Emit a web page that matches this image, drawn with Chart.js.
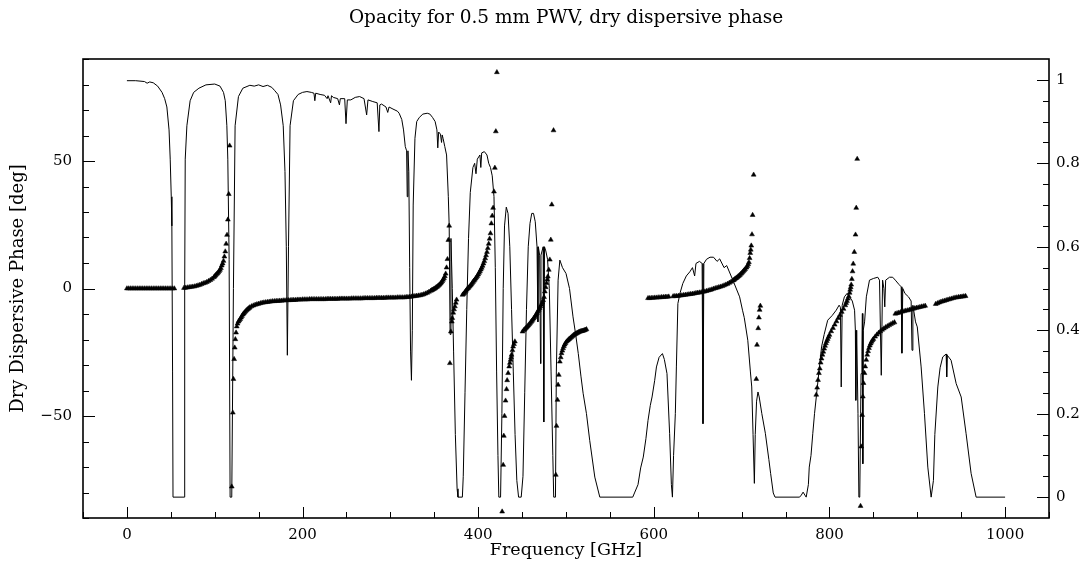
<!DOCTYPE html>
<html>
<head>
<meta charset="utf-8">
<title>Opacity for 0.5 mm PWV, dry dispersive phase</title>
<script src="https://cdn.jsdelivr.net/npm/chart.js@4.4.0/dist/chart.umd.min.js"></script>
<style>
  html, body { margin: 0; padding: 0; background: #fff; }
  #wrap { width: 1091px; height: 569px; }
</style>
</head>
<body>
<div id="wrap"><canvas id="chart" width="1091" height="569"></canvas></div>
<script>
// transmission (right axis)
var transFreq = [0,10,20,23,26,30,35,40,43,45.5,48,49.3,50.5,51.2,52,52.5,65.2,65.8,66.4,68.3,72,76,82,90,100,106,110,112,113.8,114.9,116.4,117.5,119.4,121.3,123.2,127,132,140,145,150,155,160,165,168,172,175,178,180,181.5,182.7,184,185.8,189.6,195,
  200,205,210,213,214,215,220,225,228,229,232,233,235,240,242,243,248,249.5,251,255,260,265,270,273,274.5,280,285,287,288,290,295,297,298.5,303,308,310,313,315,317,318.5,319.2,320,321,322,323,324,325,326,328,330,333,337,342,345,348,351,353,354,355,357,358.3,359,360,362,364,366,367,368,369,370.5,372,374,376,377,
  382,383,385,387,389,391,394,396,397.5,399,402,403,404,407,410,412,414,416,418,419.5,421,422.5,423.5,425.5,427,428.5,430,432,434,436,438,440,442,444,446,449,451,453,455,457,459,461,463,465,467,468,468.5,470,471,471.5,474,474.7,475.5,477,479,481,483,485,486,488,489,491,493,496,500,504,508,511,514,517,519.5,523.3,527,532.8,538.5,
  576,578,582,585,588,591,593.4,596,598,601,603,606,609.8,612,615,618,620,621.2,622.5,624.5,625.7,627.4,630,633,637,641,644,646.5,648,652,655,656,657,660,664,668,672,675,680,683,690,697.7,701,703,707,710,711.5,713,714.5,715.5,717,718.6,720,723,727,731,733,736,738,
  766,768,770,772,773.5,776,777,779,781,783,785,788,791,794,798,803,807.7,811,812.5,813.4,814.5,817,820,823,826,828.6,829.5,830,831,832.5,833.5,834.5,835.5,836,837,837.5,838,838.5,840,842,845.6,850,855,857,859,860.5,862,863,864,868.4,872,875,879,881.7,882.5,883.5,886,890,893,894,895,898,900,904.4,908.2,912,915.8,918.4,920,923.4,926,929,932.9,933.5,934.2,938.5,944.3,950,955.6,961.3,967,1000];
var transVal = [0.998,0.998,0.996,0.992,0.995,0.993,0.985,0.97,0.955,0.935,0.88,0.81,0.72,0.65,0.3,0,0,0.5,0.81,0.89,0.95,0.97,0.98,0.988,0.99,0.985,0.97,0.95,0.89,0.81,0.57,0,0,0.5,0.89,0.96,0.98,0.987,0.985,0.988,0.984,0.987,0.982,0.975,0.965,0.94,0.89,0.78,0.6,0.34,0.6,0.89,0.95,0.965,
  0.97,0.972,0.97,0.968,0.95,0.968,0.965,0.963,0.955,0.962,0.945,0.962,0.958,0.955,0.94,0.955,0.955,0.895,0.952,0.952,0.958,0.96,0.955,0.916,0.952,0.948,0.945,0.876,0.94,0.942,0.935,0.922,0.935,0.93,0.925,0.92,0.905,0.88,0.84,0.83,0.72,0.83,0.78,0.55,0.35,0.28,0.4,0.7,0.86,0.9,0.91,0.918,0.92,0.918,0.91,0.9,0.88,0.837,0.875,0.87,0.85,0.868,0.86,0.84,0.82,0.72,0.65,0.39,0.62,0.5,0.35,0.15,0.02,0,
  0,0.05,0.25,0.45,0.62,0.73,0.79,0.8,0.775,0.81,0.82,0.79,0.825,0.828,0.82,0.8,0.79,0.77,0.72,0.55,0.3,0.1,0,0,0.2,0.5,0.65,0.695,0.68,0.6,0.45,0.3,0.15,0.04,0,0,0.05,0.25,0.45,0.6,0.656,0.68,0.68,0.66,0.6,0.42,0.6,0.58,0.32,0.58,0.6,0.18,0.6,0.59,0.57,0.5,0.3,0.1,0,0,0.3,0.52,0.568,0.55,0.536,0.5,0.432,0.39,0.344,0.29,0.249,0.2,0.136,0.048,0,
  0,0.01,0.03,0.07,0.096,0.14,0.184,0.22,0.24,0.28,0.312,0.335,0.344,0.33,0.296,0.152,0.03,0,0.1,0.2,0.312,0.464,0.49,0.512,0.53,0.54,0.55,0.53,0.56,0.565,0.56,0.176,0.56,0.57,0.575,0.575,0.565,0.571,0.55,0.555,0.52,0.48,0.448,0.43,0.376,0.3,0.264,0.15,0.033,0.15,0.23,0.252,0.24,0.2,0.153,0.09,0.057,0.01,0,
  0,0.005,0.012,0.005,0,0.03,0.072,0.1,0.152,0.2,0.24,0.3,0.36,0.39,0.424,0.435,0.448,0.46,0.455,0.264,0.46,0.48,0.488,0.48,0.47,0.448,0.4,0.232,0.4,0.2,0,0,0.2,0.296,0.35,0.44,0.08,0.4,0.42,0.48,0.52,0.524,0.527,0.52,0.292,0.52,0.5,0.456,0.52,0.527,0.527,0.52,0.51,0.504,0.345,0.5,0.488,0.48,0.47,0.352,0.46,0.42,0.408,0.312,0.2,0.072,0,0.04,0.15,0.264,0.31,0.336,0.343,0.288,0.34,0.328,0.272,0.24,0.152,0.057,0,0];

// dry dispersive phase (left axis), deg -- one line per run of triangles
var phaseFreq = [
  0,2,4,6,8,10,12,14,16,18,20,22,24,26,28,30,32,34,36,38,40,42,44,46,48,50,52,54,
  65,67,69,71,73,75,77,79,81,83,85,87,89,91,93,95,97,99,100,101,102,103,104,105,106,107,108,109,110,111,112,113,114,115,116,117,
  119.4,120.6,121.3,122.1,122.8,123.5,124.3,125.1,126,127,128,129,130,131,132,133,134,135,136,137,138,139,140,
  142,144,146,148,150,152,154,156,158,160,162,164,166,168,170,172,174,176,178,180,182,184,186,188,190,192,194,196,198,200,
  202,204,206,208,210,212,214,216,218,220,222,224,226,228,230,232,234,236,238,240,242,244,246,248,250,252,254,256,258,260,
  262,264,266,268,270,272,274,276,278,280,282,284,286,288,290,292,294,296,298,300,302,304,306,308,310,312,314,316,318,320,
  322,324,326,328,330,332,334,336,338,340,342,344,346,
  347,348,349,350,351,352,353,354,355,356,357,358,359,360,361,362,363,364,365,366,367,
  367.8,368.9,370,370.5,371.6,372.5,373.5,374.5,375.4,
  382.2,383,384,385,386,387,388,389,390,391,392,393,394,395,396,397,398,399,400,401,402,403,404,405,406,407,408,409,410,411,412,413,414,415,416,417,418,419,420.1,421.3,
  427.3,428.5,429.2,430,431.2,432.3,433,434.1,435.3,436.1,436.9,437.5,438,439,439.8,440.8,441.8,
  450.5,452,453,454,455,456,457,458,459,460,461,462,463,464,465,466,467,468,469,470,471,472,473,474,475,475.9,476.9,477.8,478.6,479.3,480.4,481.6,482.7,483.8,485.8,
  488.4,489.2,490.3,491,491.8,493,494,494.9,495.8,496.7,497.6,498.5,499.5,500.6,502,503,504,505,506,507,508,509,510,511,512,513,514,515,516,517,518,519,520,521,522,523.3,
  593.4,595,597,599,601,603,605,607,609,611,613,615,617,
  622,624,626,628,630,632,634,636,638,640,642,644,646,648,650,652,654,656,658,660,662,664,666,668,670,672,674,676,678,680,682,684,686,688,690,
  691,692,693,694,695,696,697,698,699,700,701,702,703,704,705.5,706.5,707.5,708.3,709.1,709.8,710.4,711,711.8,712.5,713.7,
  716.7,717.5,718.9,719.7,720.5,721.3,
  785,786,787,788,789,790,791,792,793,794,795,796,797,798,799,800,802,804,806,808,810,812,814,816,818,819,820,821,822,823,
  823.6,824.2,824.8,825.5,826.3,827.1,828.3,829.7,830.5,831.6,
  835.4,836.2,837.3,838,838.8,839.9,840.7,841.9,843,844,845,846,847,848,849,850,852,854,856,858,860,862,864,866,868,870,872,874,
  875,877,879,881,883,885,887,889,891,893,895,897,899,901,903,905,907,909,
  921,923,925,927,929,931,933,935,937,939,941,943,945,947,949,951,953,955];
var phaseDeg = [
  0,0,0,0,0,0,0,0,0,0,0,0,0,0,0,0,0,0,0,0,0,0,0,0,0,0,0,0,
  0.2,0.3,0.4,0.5,0.6,0.7,0.8,1,1.2,1.4,1.7,2,2.2,2.5,2.9,3.3,3.8,4.4,4.8,5.2,5.6,5.9,6.3,6.8,7.3,8,9,9.8,10.8,12.5,14.5,17.5,21,27,37,56,
  -77.7,-48.7,-35.5,-27.7,-23.2,-19.9,-17.3,-14.9,-13.8,-13,-12.5,-12,-11.4,-10.8,-10.2,-9.8,-9.4,-9,-8.6,-8.3,-8,-7.7,-7.4,
  -7,-6.7,-6.4,-6.2,-6,-5.8,-5.6,-5.5,-5.4,-5.3,-5.2,-5.1,-5,-5,-4.9,-4.9,-4.8,-4.8,-4.7,-4.7,-4.6,-4.6,-4.6,-4.5,-4.5,-4.5,-4.4,-4.4,-4.4,-4.3,
  -4.3,-4.3,-4.3,-4.2,-4.2,-4.2,-4.2,-4.2,-4.2,-4.2,-4.2,-4.2,-4.2,-4.1,-4.1,-4.1,-4.1,-4.1,-4.1,-4.1,-4,-4,-4,-4,-4,-4,-4,-3.9,-3.9,-3.9,
  -3.9,-3.9,-3.9,-3.9,-3.8,-3.8,-3.8,-3.8,-3.8,-3.8,-3.8,-3.7,-3.7,-3.7,-3.7,-3.7,-3.7,-3.6,-3.6,-3.6,-3.6,-3.6,-3.6,-3.5,-3.5,-3.5,-3.5,-3.5,-3.4,-3.4,
  -3.3,-3.2,-3.1,-3,-2.9,-2.8,-2.7,-2.5,-2.3,-2,-1.7,-1.3,-0.9,
  -0.7,-0.5,-0.3,-0.1,0.1,0.4,0.6,0.9,1.2,1.5,1.9,2.3,2.8,3.4,4,4.8,5.8,8.2,11.5,19,24.6,
  -29.3,-16.9,-13,-11.6,-9.5,-8.2,-7,-5.6,-4.4,
  -2.5,-2.2,-1.9,-1.4,-0.9,-0.4,0,0.3,0.7,1.1,1.5,2,2.5,3,3.4,3.9,4.4,4.9,5.5,6.1,6.7,7.4,8.1,8.9,9.8,10.7,11.8,13,14.3,15.8,17.5,19.5,21.6,25.5,28.5,31.6,38,47.3,61.6,84.8,
  -87.5,-69.2,-57.8,-50,-44,-39.5,-36,-33.2,-30.6,-29.2,-28,-27,-26,-24.2,-22.8,-21.8,-20.8,
  -16.9,-16.3,-16,-15.6,-15.3,-14.9,-14.5,-14.1,-13.7,-13.2,-12.8,-12.3,-11.8,-11.3,-10.8,-10.2,-9.6,-9,-8.4,-7.7,-7,-6.3,-5.5,-4.6,-3.4,-1.2,0.5,2.1,3.5,4.7,7.3,11.3,19.1,32.9,62,
  -73.1,-53.9,-43.7,-37.8,-33.9,-28.7,-27,-25.4,-24.4,-23.5,-22.7,-22,-21.4,-20.8,-20.4,-20,-19.7,-19.4,-19.1,-18.8,-18.5,-18.2,-18,-17.8,-17.6,-17.4,-17.2,-17,-16.9,-16.8,-16.7,-16.6,-16.5,-16.4,-16.2,-16,
  -3.8,-3.8,-3.7,-3.7,-3.6,-3.6,-3.5,-3.5,-3.4,-3.4,-3.3,-3.3,-3.2,
  -3.1,-3,-3,-2.9,-2.8,-2.7,-2.6,-2.5,-2.4,-2.3,-2.2,-2.1,-2,-1.8,-1.7,-1.6,-1.5,-1.3,-1.2,-1,-0.8,-0.6,-0.4,-0.1,0.1,0.3,0.5,0.7,0.9,1.2,1.5,1.8,2.2,2.6,3.1,
  3.3,3.6,3.9,4.1,4.4,4.7,5,5.3,5.7,6,6.4,6.8,7.2,7.6,8.2,8.8,9.5,10.3,11.9,13.9,15.2,16.8,21.2,28.8,44.6,
  -35.5,-22.1,-15.6,-11.4,-8.4,-6.8,
  -41.7,-38.9,-35.9,-33.2,-31.4,-29.1,-27.5,-26,-24.8,-23.6,-22.5,-21.5,-20.6,-19.8,-19,-18.2,-16.8,-15.5,-14.2,-12.9,-11.6,-10.4,-9.2,-8,-6.6,-5.7,-4.9,-4,-3.1,-1.7,
  -0.5,0.5,1.5,3.7,6.7,9.7,14.3,21.1,31.6,50.8,
  -85.3,-62,-49.6,-42.4,-37.1,-33.2,-30.6,-28,-26,-24.6,-23.4,-22.4,-21.6,-20.9,-20.3,-19.8,-18.9,-18.1,-17.4,-16.8,-16.2,-15.7,-15.2,-14.8,-14.4,-14,-13.6,-13.3,
  -9.9,-9.7,-9.5,-9.3,-9.1,-8.9,-8.7,-8.6,-8.4,-8.2,-8,-7.8,-7.6,-7.5,-7.3,-7.1,-7,-6.8,
  -6.1,-5.8,-5.5,-5.2,-5,-4.8,-4.6,-4.4,-4.2,-4,-3.8,-3.6,-3.5,-3.4,-3.3,-3.2,-3.1,-3];

var xTickLabels = [0, 200, 400, 600, 800, 1000];
var phaseTickLabels = [-50, 0, 50];
var transTickLabels = [0, 0.2, 0.4, 0.6, 0.8, 1];

var fontFam = '"DejaVu Serif", "Liberation Serif", serif';

function pairs(xs, ys) {
  var out = [];
  for (var i = 0; i < xs.length; i++) out.push({x: xs[i], y: ys[i]});
  if (xs.length !== ys.length) console.log('length mismatch', xs.length, ys.length);
  return out;
}

// frame and inward tick marks, PGPLOT style
var frameTicks = {
  id: 'frameTicks',
  afterDraw: function (chart) {
    var ctx = chart.ctx, a = chart.chartArea;
    var sx = chart.scales.x, sy = chart.scales.y, sy2 = chart.scales.y2;
    ctx.save();
    ctx.strokeStyle = '#000';
    ctx.lineWidth = 1;
    ctx.beginPath();
    var v, p, len;
    for (v = -50; v <= 1050; v += 50) {
      p = Math.round(sx.getPixelForValue(v)) + 0.5;
      len = (v % 200 === 0) ? 11 : 6;
      ctx.moveTo(p, a.bottom); ctx.lineTo(p, a.bottom - len);
    }
    for (v = -90; v <= 90; v += 10) {
      p = Math.round(sy.getPixelForValue(v)) + 0.5;
      len = (v % 50 === 0) ? 12 : 6;
      ctx.moveTo(a.left, p); ctx.lineTo(a.left + len, p);
    }
    for (v = 0; v <= 20; v += 1) {
      p = Math.round(sy2.getPixelForValue(v * 0.05)) + 0.5;
      len = (v % 4 === 0) ? 12 : 6;
      ctx.moveTo(a.right, p); ctx.lineTo(a.right - len, p);
    }
    ctx.stroke();
    ctx.lineWidth = 1.6;
    ctx.strokeRect(a.left, a.top, a.right - a.left, a.bottom - a.top);
    ctx.restore();
  }
};

var ctx = document.getElementById('chart').getContext('2d');
var myChart = new Chart(ctx, {
  type: 'scatter',
  data: {
    datasets: [{
      label: 'Dry dispersive phase',
      data: pairs(phaseFreq, phaseDeg),
      yAxisID: 'y',
      pointStyle: 'triangle',
      pointRadius: 2.8,
      pointBorderWidth: 0.5,
      backgroundColor: '#000',
      borderColor: '#000',
      showLine: false
    }, {
      type: 'line',
      label: 'Transmission',
      data: pairs(transFreq, transVal),
      yAxisID: 'y2',
      borderColor: '#000',
      borderWidth: 1,
      pointRadius: 0,
      tension: 0,
      fill: false
    }]
  },
  options: {
    responsive: false,
    animation: false,
    devicePixelRatio: 1,
    layout: { padding: 0 },
    plugins: {
      legend: { display: false },
      tooltip: { enabled: false },
      title: {
        display: true,
        fullSize: false,
        text: 'Opacity for 0.5 mm PWV, dry dispersive phase',
        color: '#000',
        font: { family: fontFam, size: 18.5, weight: 'normal', lineHeight: 1.2 },
        padding: { top: 7, bottom: 29.8 }
      }
    },
    scales: {
      x: {
        type: 'linear',
        position: 'bottom',
        min: -50, max: 1050,
        grid: { display: false, drawTicks: false },
        border: { display: false },
        ticks: {
          includeBounds: false,
          stepSize: 200,
          padding: 8,
          color: '#000',
          font: { family: fontFam, size: 15 },
          maxRotation: 0,
          callback: function (v) { return xTickLabels.indexOf(v) >= 0 ? String(v) : ''; }
        },
        title: {
          display: true,
          text: 'Frequency [GHz]',
          color: '#000',
          font: { family: fontFam, size: 17.5, lineHeight: 1.2 },
          padding: { top: 0, bottom: 8 }
        },
        afterFit: function (s) { s.height = 51; }
      },
      y: {
        type: 'linear',
        position: 'left',
        min: -90, max: 90,
        grid: { display: false, drawTicks: false },
        border: { display: false },
        ticks: {
          includeBounds: false,
          stepSize: 50,
          padding: 11,
          color: '#000',
          font: { family: fontFam, size: 15 },
          callback: function (v) {
            return phaseTickLabels.indexOf(v) >= 0 ? String(v).replace('-', '\u2212') : '';
          }
        },
        title: {
          display: true,
          text: 'Dry Dispersive Phase [deg]',
          color: '#000',
          font: { family: fontFam, size: 18, lineHeight: 1.2 },
          padding: { top: 8, bottom: 0 }
        },
        afterFit: function (s) { s.width = 83; }
      },
      y2: {
        type: 'linear',
        position: 'right',
        min: -0.05, max: 1.05,
        grid: { display: false, drawTicks: false },
        border: { display: false },
        ticks: {
          includeBounds: false,
          stepSize: 0.2,
          padding: 7,
          color: '#000',
          font: { family: fontFam, size: 15 },
          callback: function (v) {
            var r = Math.round(v * 10) / 10;
            return transTickLabels.indexOf(r) >= 0 ? String(r) : '';
          }
        },
        afterFit: function (s) { s.width = 42; }
      }
    }
  },
  plugins: [frameTicks]
});
</script>
</body>
</html>
